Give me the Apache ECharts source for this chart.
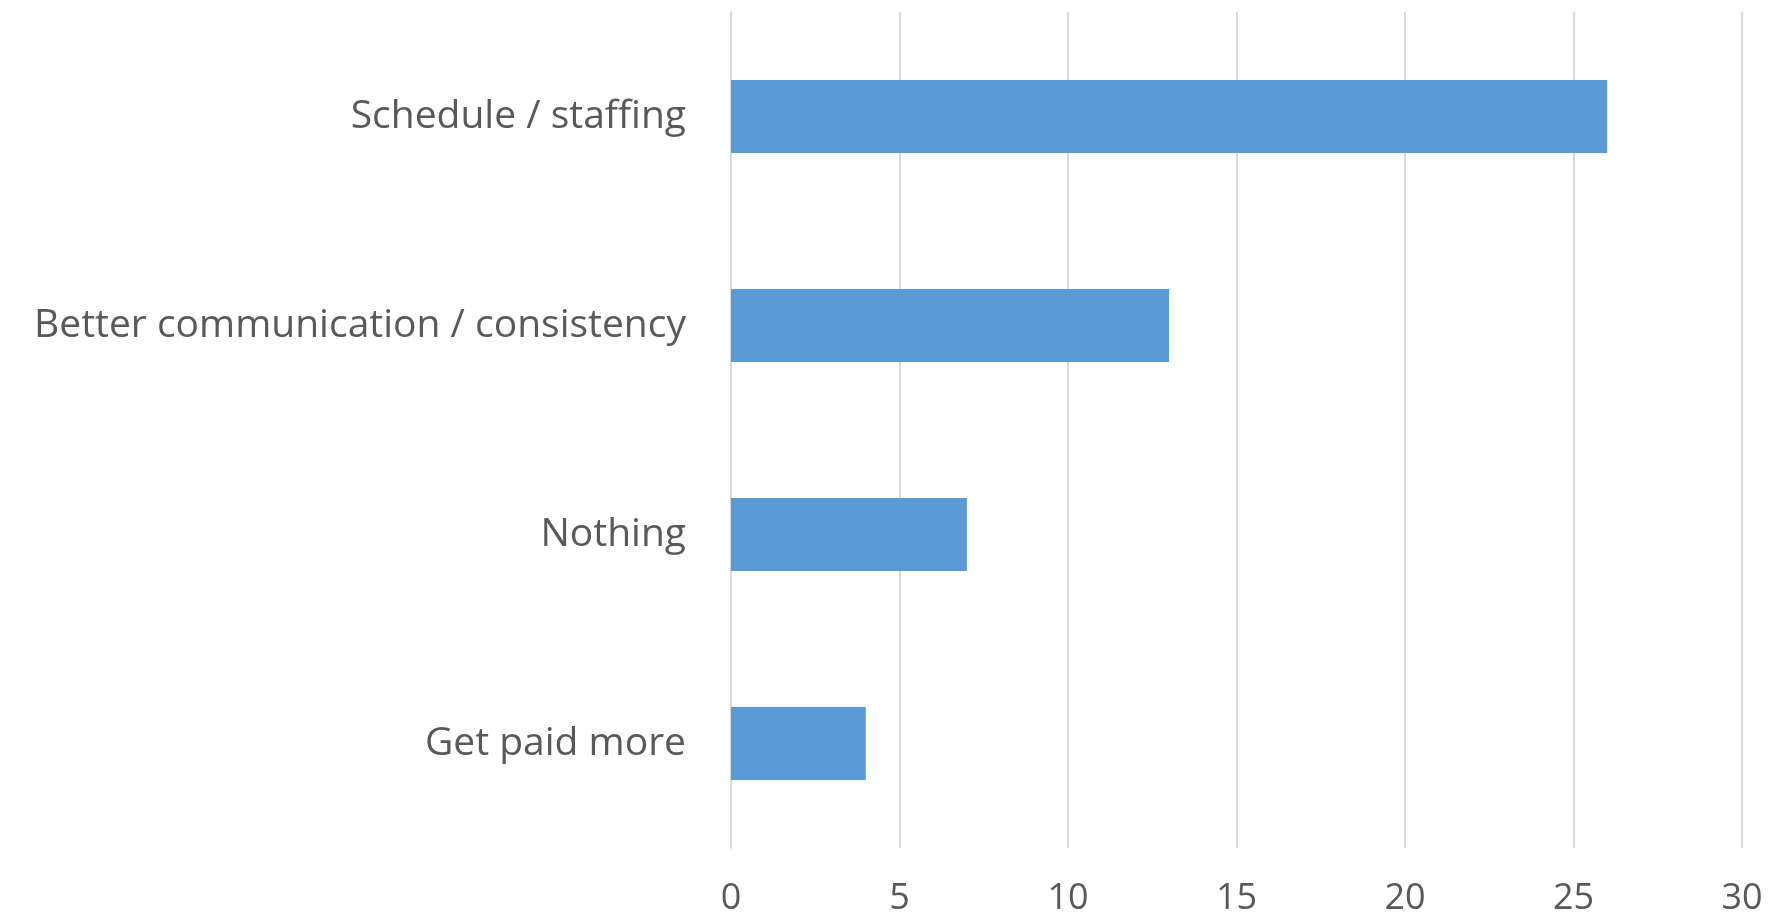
<!DOCTYPE html>
<html>
<head>
<meta charset="utf-8">
<script src="https://cdn.jsdelivr.net/npm/echarts@6/dist/echarts.min.js"></script>
<style>
  html, body { margin: 0; padding: 0; background: #fff; }
  #main { width: 1777px; height: 912px; }
</style>
</head>
<body>
<div id="main"></div>
<script>
// categories, top to bottom
var categories = ['Schedule / staffing', 'Better communication / consistency', 'Nothing', 'Get paid more'];
// counts
var counts = [26, 13, 7, 4];
// x axis ticks
var xMin = 0, xMax = 30, xStep = 5;

var chart = echarts.init(document.getElementById('main'));

var option = {
  backgroundColor: '#ffffff',
  animation: false,
  grid: {
    left: 731,
    right: 35,
    top: 12,
    bottom: 64,
    outerBoundsMode: 'none'
  },
  xAxis: {
    type: 'value',
    min: xMin,
    max: xMax,
    interval: xStep,
    axisLine: { show: false },
    axisTick: { show: false },
    axisLabel: {
      color: '#595959',
      fontFamily: 'Open Sans',
      fontSize: 36,
      margin: 33
    },
    splitLine: { lineStyle: { color: '#d9d9d9', width: 2 } }
  },
  yAxis: {
    type: 'category',
    inverse: true,
    data: categories,
    axisLine: { show: true, lineStyle: { color: '#d9d9d9', width: 2 } },
    axisTick: { show: false },
    axisLabel: {
      color: '#595959',
      fontFamily: 'Open Sans',
      fontSize: 39,
      margin: 45
    }
  },
  series: [{
    type: 'bar',
    data: counts,
    barWidth: '35%',
    itemStyle: { color: '#5b9bd5' }
  }]
};

chart.setOption(option);
</script>
</body>
</html>
